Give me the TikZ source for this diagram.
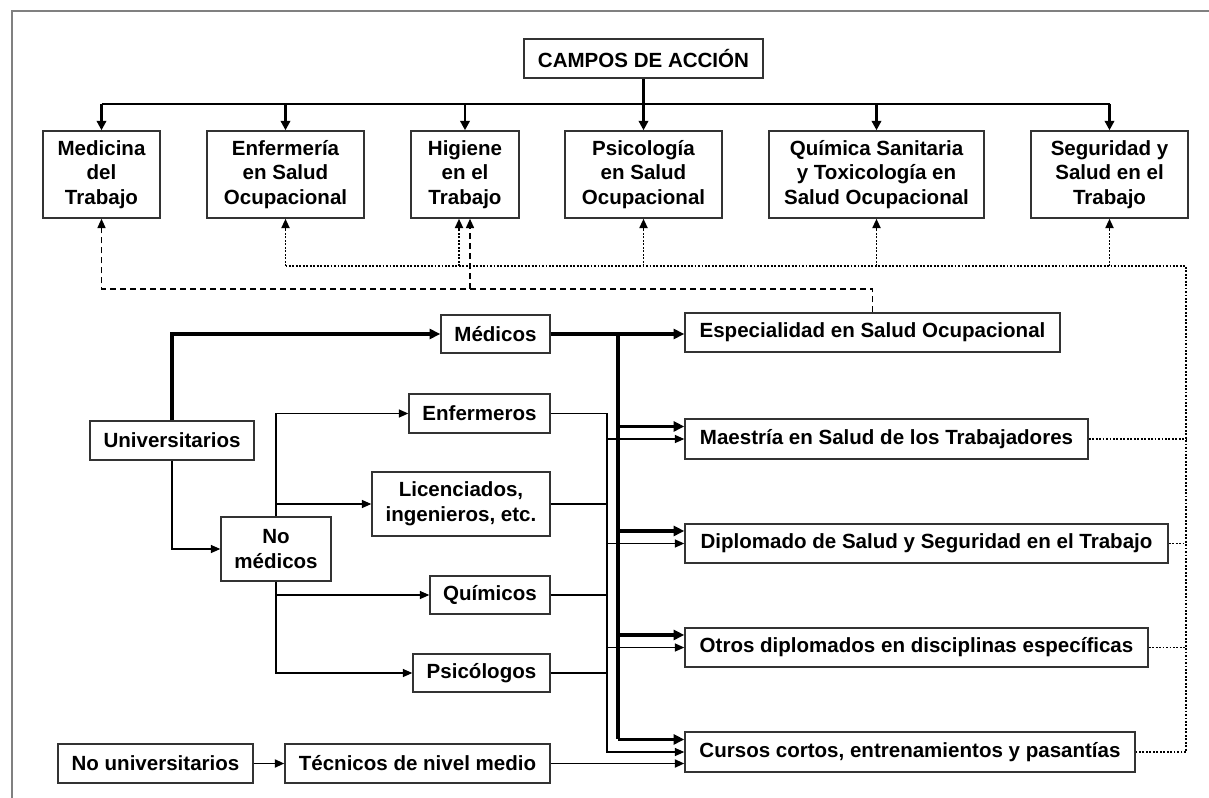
\documentclass[tikz,border=0pt]{standalone}
\usepackage{fontspec}
\setmainfont{Liberation Sans}
\usepackage{tikz}
\usetikzlibrary{arrows.meta}

\begin{document}
\begin{tikzpicture}[
        x=0.75pt, y=-0.75pt,
        box/.style={draw=black!80, line width=1.1pt, fill=white, align=center, inner sep=0pt,
            font=\fontsize{15.4}{18.4}\selectfont\bfseries},
        sz/.style 2 args={minimum width=#1*0.75pt, minimum height=#2*0.75pt},
        busline/.style={line width=1.7pt},
        busarrow/.style={line width=1.7pt, -{Triangle[length=7pt,width=7pt]}},
        boldline/.style={line width=2.4pt},
        boldarrow/.style={line width=2.4pt, -{Triangle[length=8pt,width=7.5pt]}},
        fineline/.style={line width=0.8pt},
        finearrow/.style={line width=0.8pt, -{Triangle[length=7pt,width=6pt]}},
        midarrow/.style={line width=1.3pt, -{Triangle[length=7pt,width=6pt]}},
        dotline/.style={line width=1.4pt, dash pattern=on 1.4pt off 1.2pt},
        dotarrow/.style={dotline, -{Triangle[length=7pt,width=6pt]}},
        dashline/.style={line width=1.2pt, dash pattern=on 4.5pt off 3pt},
        dasharrow/.style={dashline, -{Triangle[length=7pt,width=6pt]}}
    ]
    \useasboundingbox (0,0) rectangle (1209,798);
    \draw[gray, line width=0.8pt] (1209,11) -- (12,11) -- (12,798);

    % campos
    \node[box, sz={239}{39}] (campos) at (643.5,58.5) {CAMPOS DE ACCIÓN};
    \node[box, sz={117}{87}] (medicina) at (101.5,174.5) {Medicina\\del\\Trabajo};
    \node[box, sz={157}{87}] (enfermeria) at (285.5,174.5) {Enfermería\\en Salud\\Ocupacional};
    \node[box, sz={108}{87}] (higiene) at (465,174.5) {Higiene\\en el\\Trabajo};
    \node[box, sz={157}{87}] (psicologia) at (643.5,174.5) {Psicología\\en Salud\\Ocupacional};
    \node[box, sz={215}{87}] (quimica) at (876.5,174.5) {Química Sanitaria\\y Toxicología en\\Salud Ocupacional};
    \node[box, sz={157}{87}] (seguridad) at (1109.5,174.5) {Seguridad y\\Salud en el\\Trabajo};

    % formacion
    \node[box, sz={164}{39}] (univ) at (172,440.5) {Universitarios};
    \node[box, sz={109}{38}] (medicos) at (495.5,334) {Médicos};
    \node[box, sz={110}{64}] (nomed) at (276,549) {No\\médicos};
    \node[box, sz={141}{39}] (enfermeros) at (479.5,413.5) {Enfermeros};
    \node[box, sz={178}{64}] (licenciados) at (461,504) {Licenciados,\\ingenieros, etc.};
    \node[box, sz={120}{38}] (quimicos) at (490,595) {Químicos};
    \node[box, sz={137}{38}] (psicologos) at (481.5,673) {Psicólogos};
    \node[box, sz={195}{39}] (nouniv) at (155.5,763.5) {No universitarios};
    \node[box, sz={265}{39}] (tecnicos) at (417.5,763.5) {Técnicos de nivel medio};

    % programas
    \node[box, sz={375}{39}] (espec) at (872.5,332.5) {Especialidad en Salud Ocupacional};
    \node[box, sz={403}{40}] (maestria) at (886.5,439) {Maestría en Salud de los Trabajadores};
    \node[box, sz={483}{39}] (diplomado) at (926.5,543.5) {Diplomado de Salud y Seguridad en el Trabajo};
    \node[box, sz={463}{39}] (otros) at (916.5,647.5) {Otros diplomados en disciplinas específicas};
    \node[box, sz={450}{40}] (cursos) at (910,752) {Cursos cortos, entrenamientos y pasantías};

    \coordinate (bus) at (0,104);
    \coordinate (dot) at (0,266);
    \coordinate (dotr) at (1186,266);
    \coordinate (dsh) at (0,289);
    \coordinate (hdot) at (459,266);
    \coordinate (hdash) at (470,289);
    \coordinate (col) at (607,0);
    \coordinate (bus2) at (618,0);

    % arbol superior
    \draw[busline] (medicina.north |- bus) -- (seguridad.north |- bus);
    \draw[busarrow] (campos) -- (psicologia);
    \foreach \n in {medicina, enfermeria, higiene, quimica, seguridad}
        \draw[busarrow] (\n.north |- bus) -- (\n.north);

    % punteadas
    \draw[dotline] (enfermeria.south |- dot) -- (dotr) -- (dotr |- cursos.east) -- (cursos.east);
    \foreach \n in {maestria, diplomado, otros}
        \draw[dotline] (\n.east) -- (\n.east -| dotr);
    \foreach \n in {enfermeria, psicologia, quimica, seguridad}
        \draw[dotarrow] (\n.south |- dot) -- (\n.south);
    \draw[dotarrow] (hdot) -- (hdot |- higiene.south);

    % discontinuas
    \draw[dasharrow] (espec.north) -- (espec.north |- dsh) -- (medicina.south |- dsh) -- (medicina.south);
    \draw[dasharrow] (hdash) -- (hdash |- higiene.south);

    % izquierda
    \draw[boldarrow] (univ.north) |- (medicos.west);
    \draw[finearrow] (univ.south) |- (nomed.west);
    \draw[finearrow] (nomed.north) |- (enfermeros.west);
    \draw[finearrow] (nomed.north |- licenciados) -- (licenciados.west);
    \draw[finearrow] (nomed.south) |- (psicologos.west);
    \draw[finearrow] (nomed.south |- quimicos) -- (quimicos.west);
    \draw[midarrow] (nouniv) -- (tecnicos);

    % colectores
    \draw[boldarrow] (medicos.east) -- (medicos.east -| espec.west);
    \draw[boldline] (medicos.east -| bus2) -- ([yshift=9.4pt]cursos.west -| bus2);
    \foreach \n in {maestria, diplomado, otros, cursos}
        \draw[boldarrow] ([yshift=9.4pt]\n.west -| bus2) -- ([yshift=9.4pt]\n.west);
    \draw[finearrow] (enfermeros.east) -| (col |- cursos.west) -- (cursos.west);
    \foreach \n in {licenciados, quimicos, psicologos}
        \draw[fineline] (\n.east) -- (\n.east -| col);
    \foreach \n in {maestria, diplomado, otros}
        \draw[finearrow] (\n.west -| col) -- (\n.west);
    \draw[midarrow] (tecnicos.east) -- (tecnicos.east -| cursos.west);

\end{tikzpicture}
\end{document}
